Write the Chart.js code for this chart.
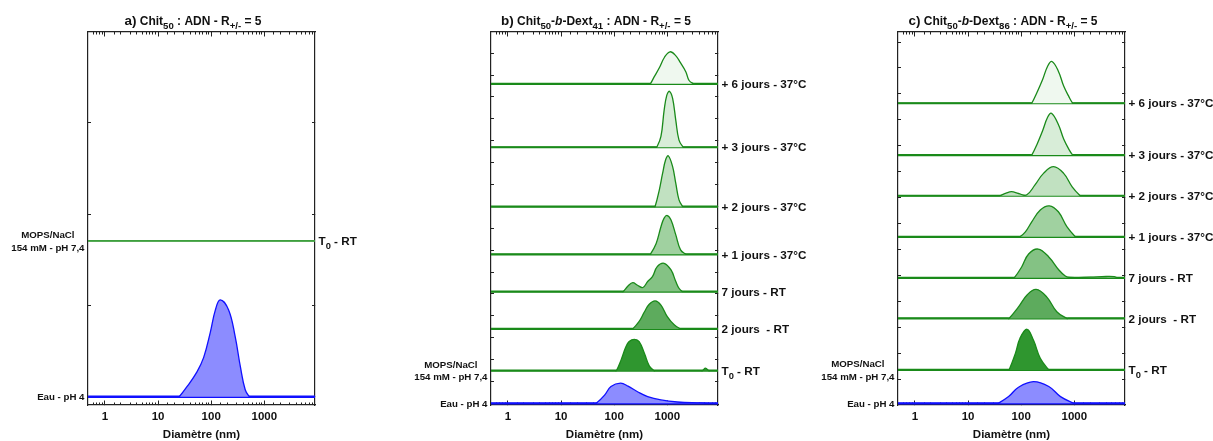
<!DOCTYPE html>
<html>
<head>
<meta charset="utf-8">
<script src="https://cdn.jsdelivr.net/npm/chart.js@4.4.0/dist/chart.umd.min.js"></script>
<style>
  html, body { margin: 0; padding: 0; background: #fff; overflow: hidden; }
  .panel { position: absolute; top: 0; }
</style>
</head>
<body>
<canvas id="pa" class="panel" width="404" height="441" style="left:0px"></canvas>
<canvas id="pb" class="panel" width="404" height="441" style="left:403px"></canvas>
<canvas id="pc" class="panel" width="404" height="441" style="left:810px"></canvas>
<script>
// ---- shared axis data ----
const xMin = 0.48, xMax = 9000;
const xTickLabels = [1, 10, 100, 1000];
const xTitle = 'Diamètre (nm)';

// ---- colours ----
const FONT = '"Liberation Sans", Arial, sans-serif';
const AXIS = '#222';
const GREEN = '#1a8a1a';
const BLUE = '#1010ff';
const BLUE_FILL = '#8c8cff';
const greenFills = ['#eff8ef', '#d8edd8', '#c1e1c1', '#a0d1a0', '#84c284', '#5dab5d', '#2f962f'];

// ---- panel a ----
const aPrefix = 'a)';
const aTitle = ' Chit_{50} : ADN - R_{+/-} = 5';
const aRight = ['T_{0} - RT', ''];
const aLeft = [['MOPS/NaCl', '154 mM - pH 7,4'], ['Eau - pH 4']];
const aOffsets = [44.0, 2.2];
const aYTicks = [2.2, 26.7, 51.2, 75.7];
// [diametre (nm), intensite]
const aT0 = [[0.4, 0], [10000, 0]];
const aEau = [[0.4, 0], [24, 0], [25, 0], [35, 2.7], [54, 6.7], [72, 10.5], [96, 17.2], [120, 23.3], [148, 26.0],
  [213, 23.3], [283, 16.1], [355, 8.0], [437, 1.9], [525, 0], [550, 0], [10000, 0]];

// ---- panel b ----
const bPrefix = 'b)';
const bTitle = ' Chit_{50}-~b~-Dext_{41} : ADN - R_{+/-} = 5';
const bRight = ['+ 6 jours - 37°C', '+ 3 jours - 37°C', '+ 2 jours - 37°C', '+ 1 jours - 37°C',
  '7 jours - RT', '2 jours  - RT', 'T_{0} - RT', ''];
const bLeft = [[], [], [], [], [], [], ['MOPS/NaCl', '154 mM - pH 7,4'], ['Eau - pH 4']];
const bOffsets = [86.1, 69.1, 53.2, 40.4, 30.4, 20.4, 9.2, 0.45];
const bYTicks = [0.45, 6.3, 12.2, 18.0, 23.9, 29.8, 35.6, 41.5, 47.4, 53.2, 59.1, 65.0, 70.8, 76.7, 82.6, 88.4, 94.3];
const bJ6 = [[0.4, 0], [460, 0], [479, 0], [562, 1.8], [708, 4.3], [891, 7.2], [1122, 8.6], [1413, 7.7], [1778, 5.6],
  [2239, 3.2], [2570, 0.9], [3162, 0], [3300, 0], [10000, 0]];
const bJ3 = [[0.4, 0], [600, 0], [631, 0], [759, 2.9], [871, 9.9], [977, 13.9], [1096, 15.0], [1259, 13.1], [1445, 7.2],
  [1660, 1.9], [1995, 0], [2090, 0], [10000, 0]];
const bJ2 = [[0.4, 0], [560, 0], [589, 0], [708, 4.5], [813, 8.8], [933, 12.6], [1047, 13.6], [1259, 10.7], [1445, 6.2],
  [1660, 1.8], [1950, 0], [2040, 0], [10000, 0]];
const bJ1 = [[0.4, 0], [455, 0], [479, 0], [617, 2.9], [759, 7.4], [871, 9.7], [1000, 10.4], [1175, 9.2], [1445, 5.2],
  [1778, 1.2], [2239, 0], [2350, 0], [10000, 0]];
const bJ7RT = [[0.4, 0], [141, 0], [148, 0], [182, 1.5], [224, 2.4], [275, 1.7], [347, 1.1], [427, 2.7], [525, 4.0],
  [646, 6.7], [871, 7.6], [1175, 5.8], [1445, 2.7], [1660, 0.9], [1905, 0], [2000, 0], [10000, 0]];
const bJ2RT = [[0.4, 0], [213, 0], [224, 0], [295, 2.0], [372, 4.6], [457, 6.6], [589, 7.5], [759, 6.4], [1000, 3.3],
  [1349, 1.1], [1778, 0], [1870, 0], [10000, 0]];
const bT0 = [[0.4, 0], [105, 0], [110, 0], [135, 2.9], [166, 6.4], [191, 7.8], [240, 8.4], [295, 7.8], [372, 4.6],
  [457, 1.3], [562, 0], [590, 0], [4350, 0], [4571, 0], [5248, 0.7], [6026, 0], [6330, 0], [10000, 0]];
const bEau = [[0.4, 0], [44, 0], [46, 0], [66, 2.2], [87, 4.5], [132, 5.4], [182, 4.6], [275, 3.1], [427, 1.8],
  [759, 0.9], [1549, 0.35], [4266, 0.1], [6310, 0], [6600, 0], [10000, 0]];

// ---- panel c ----
const cPrefix = 'c)';
const cTitle = ' Chit_{50}-~b~-Dext_{86} : ADN - R_{+/-} = 5';
const cRight = bRight;
const cLeft = bLeft;
const cOffsets = [80.9, 67.0, 56.1, 45.1, 34.1, 23.2, 9.4, 0.45];
const cYTicks = [6.95, 13.9, 20.85, 27.8, 34.75, 41.7, 48.65, 55.6, 62.55, 69.5, 76.45, 83.4, 90.35, 97.3];
const cJ6 = [[0.4, 0], [150, 0], [158, 0], [200, 3.0], [251, 6.2], [316, 10.0], [380, 11.2], [501, 8.6], [631, 4.6],
  [794, 1.7], [933, 0], [980, 0], [10000, 0]];
const cJ3 = [[0.4, 0], [150, 0], [158, 0], [200, 3.0], [251, 6.4], [316, 10.2], [372, 11.2], [501, 8.2], [631, 4.3],
  [794, 1.5], [933, 0], [980, 0], [10000, 0]];
const cJ2 = [[0.4, 0], [38, 0], [40, 0], [52, 0.7], [66, 1.1], [89, 0.6], [126, 0.2], [182, 2.9], [263, 6.0],
  [407, 7.8], [631, 6.0], [912, 2.4], [1288, 0], [1350, 0], [10000, 0]];
const cJ1 = [[0.4, 0], [90, 0], [95, 0], [120, 1.3], [158, 4.0], [229, 7.2], [339, 8.3], [501, 6.7], [724, 2.7],
  [1047, 0], [1100, 0], [10000, 0]];
const cJ7RT = [[0.4, 0], [70, 0], [74, 0], [102, 2.9], [138, 6.4], [209, 7.7], [331, 5.6], [513, 2.1], [676, 0.5],
  [832, 0.1], [1995, 0.2], [3981, 0.35], [5623, 0.3], [6457, 0], [6780, 0], [10000, 0]];
const cJ2RT = [[0.4, 0], [56, 0], [59, 0], [89, 3.1], [129, 6.3], [191, 7.8], [302, 5.8], [468, 1.8], [724, 0],
  [760, 0], [10000, 0]];
const cT0 = [[0.4, 0], [56, 0], [59, 0], [78, 4.5], [95, 8.5], [129, 10.9], [170, 8.0], [229, 3.1], [331, 0],
  [348, 0], [10000, 0]];
const cEau = [[0.4, 0], [35, 0], [37, 0], [58, 1.8], [89, 4.3], [170, 5.8], [331, 4.5], [550, 1.8], [977, 0],
  [1026, 0], [10000, 0]];

// ---- text helpers (subscript _{..}, italic ~..~) ----
function parseRich(str) {
  return str.split(/(_\{[^}]*\}|~[^~]*~)/).filter(s => s).map(s => {
    if (s.startsWith('_{')) return { t: s.slice(2, -1), sub: true };
    if (s.startsWith('~')) return { t: s.slice(1, -1), it: true };
    return { t: s };
  });
}

function drawRich(ctx, str, x, yMid, size, align, lead) {
  const parts = parseRich(str);
  if (lead) parts.unshift({ t: lead, big: true });
  const fontOf = p => (p.it ? 'italic ' : '') + 'bold ' +
    (p.sub ? size * 0.8 : p.big ? size * 1.12 : size) + 'px ' + FONT;
  let w = 0;
  parts.forEach(p => { ctx.font = fontOf(p); p.w = ctx.measureText(p.t).width; w += p.w; });
  let cx = align === 'right' ? x - w : align === 'center' ? x - w / 2 : x;
  const base = yMid + size * 0.36;
  ctx.textAlign = 'left';
  ctx.textBaseline = 'alphabetic';
  parts.forEach(p => {
    ctx.font = fontOf(p);
    ctx.fillText(p.t, cx, base + (p.sub ? size * 0.36 : 0));
    cx += p.w;
  });
}

// ---- chart builder ----
function tickGrid(len) {
  return { drawOnChartArea: false, drawTicks: true, tickLength: len, color: AXIS, lineWidth: 1 };
}

function makePanel(id, cfg) {
  const datasets = [];
  cfg.series.forEach((s, i) => {
    const off = cfg.offsets[i];
    datasets.push({
      data: s.map(p => ({ x: p[0], y: off + p[1] })),
      borderColor: cfg.lines[i],
      borderWidth: 1.3,
      backgroundColor: cfg.fills[i] || 'rgba(0,0,0,0)',
      fill: cfg.fills[i] ? { value: off } : false,
      pointRadius: 0,
      tension: 0.4
    });
    datasets.push({
      data: [{ x: 0.4, y: off }, { x: 10000, y: off }],
      borderColor: cfg.lines[i],
      borderWidth: cfg.baseWidth ? cfg.baseWidth[i] : 2.2,
      fill: false,
      pointRadius: 0
    });
  });

  const textPlugin = {
    id: 'panelText',
    afterDraw(chart) {
      const ctx = chart.ctx, area = chart.chartArea, ys = chart.scales.y;
      ctx.save();
      ctx.fillStyle = '#111';
      // title
      drawRich(ctx, cfg.title, (area.left + area.right) / 2 - 8.5, 20.7, 12, 'center', cfg.prefix);
      // labels
      cfg.offsets.forEach((off, i) => {
        const py = ys.getPixelForValue(off);
        if (cfg.right[i]) drawRich(ctx, cfg.right[i], area.right + 3.5, py, 11.7, 'left');
        const lines = cfg.left[i];
        if (lines && lines.length) {
          ctx.font = 'bold 9.7px ' + FONT;
          const wMax = Math.max(...lines.map(l => ctx.measureText(l).width));
          const cx = area.left - 3.5 - wMax / 2;
          const h = 12.5;
          lines.forEach((l, k) => {
            drawRich(ctx, l, cx, py + (k - (lines.length - 1) / 2) * h, 9.7, 'center');
          });
        }
      });
      ctx.restore();
    }
  };

  const minorTicks = s => {
    s.ticks = s.ticks.filter(t => t.value > xMin * 1.01 && t.value < xMax * 0.995);
  };
  const majorTicks = s => { s.ticks = xTickLabels.map(v => ({ value: v })); };
  const yTicks = s => { s.ticks = cfg.yTicks.map(v => ({ value: v })); };
  const border = { display: true, color: AXIS, width: 1.2 };
  const noBorder = { display: false };

  new Chart(document.getElementById(id), {
    type: 'line',
    data: { datasets },
    options: {
      responsive: false,
      animation: false,
      events: [],
      layout: { padding: { left: 88, right: 89, top: 32, bottom: 0 } },
      plugins: { legend: { display: false }, tooltip: { enabled: false } },
      scales: {
        x: {
          type: 'logarithmic', position: 'bottom', weight: 1, min: xMin, max: xMax, bounds: 'data',
          grid: tickGrid(-4.5), border,
          afterBuildTicks: majorTicks,
          ticks: {
            autoSkip: false, maxRotation: 0, padding: 9, color: '#111',
            font: { family: FONT, size: 11.5, weight: 'bold' },
            callback: v => (xTickLabels.includes(v) ? String(v) : '')
          },
          title: {
            display: true, text: xTitle, color: '#111',
            font: { family: FONT, size: 11.5, weight: 'bold', lineHeight: 1 },
            padding: { top: 0, bottom: 0 }
          },
          afterFit: s => { s.height = 36; }
        },
        xm: {
          type: 'logarithmic', position: 'bottom', weight: 0, min: xMin, max: xMax, bounds: 'data',
          grid: tickGrid(-2.5), border: noBorder,
          afterBuildTicks: minorTicks,
          ticks: { display: false, autoSkip: false },
          afterFit: s => { s.height = 0; }
        },
        xt: {
          type: 'logarithmic', position: 'top', weight: 1, min: xMin, max: xMax, bounds: 'data',
          grid: tickGrid(-4.5), border,
          afterBuildTicks: majorTicks,
          ticks: { display: false, autoSkip: false },
          afterFit: s => { s.height = 0; }
        },
        xtm: {
          type: 'logarithmic', position: 'top', weight: 0, min: xMin, max: xMax, bounds: 'data',
          grid: tickGrid(-2.5), border: noBorder,
          afterBuildTicks: minorTicks,
          ticks: { display: false, autoSkip: false },
          afterFit: s => { s.height = 0; }
        },
        y: {
          type: 'linear', position: 'left', min: 0, max: 100, bounds: 'data',
          grid: tickGrid(-3), border,
          afterBuildTicks: yTicks,
          ticks: { display: false, autoSkip: false },
          afterFit: s => { s.width = 0; }
        },
        y2: {
          type: 'linear', position: 'right', min: 0, max: 100, bounds: 'data',
          grid: tickGrid(-3), border,
          afterBuildTicks: yTicks,
          ticks: { display: false, autoSkip: false },
          afterFit: s => { s.width = 0; }
        }
      }
    },
    plugins: [textPlugin]
  });
}

makePanel('pa', {
  prefix: aPrefix, title: aTitle, right: aRight, left: aLeft,
  offsets: aOffsets, yTicks: aYTicks,
  series: [aT0, aEau],
  fills: [null, BLUE_FILL],
  lines: ['#3f9f3f', BLUE],
  baseWidth: [1.6, 2.4]
});

makePanel('pb', {
  prefix: bPrefix, title: bTitle, right: bRight, left: bLeft,
  offsets: bOffsets, yTicks: bYTicks,
  series: [bJ6, bJ3, bJ2, bJ1, bJ7RT, bJ2RT, bT0, bEau],
  fills: greenFills.concat([BLUE_FILL]),
  lines: [GREEN, GREEN, GREEN, GREEN, GREEN, GREEN, GREEN, BLUE]
});

makePanel('pc', {
  prefix: cPrefix, title: cTitle, right: cRight, left: cLeft,
  offsets: cOffsets, yTicks: cYTicks,
  series: [cJ6, cJ3, cJ2, cJ1, cJ7RT, cJ2RT, cT0, cEau],
  fills: greenFills.concat([BLUE_FILL]),
  lines: [GREEN, GREEN, GREEN, GREEN, GREEN, GREEN, GREEN, BLUE]
});
</script>
</body>
</html>
